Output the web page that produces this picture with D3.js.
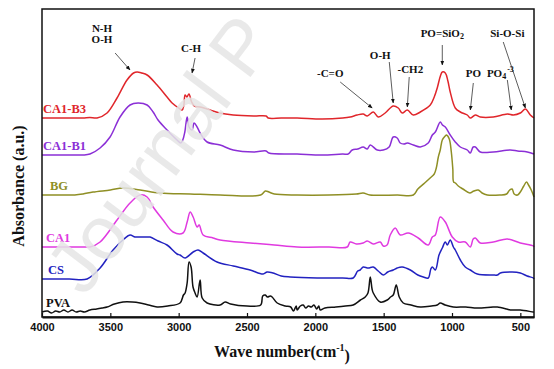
<!DOCTYPE html>
<html>
<head>
<meta charset="utf-8">
<script src="https://cdn.jsdelivr.net/npm/d3@7"></script>
<style>
  html, body { margin: 0; padding: 0; background: #fff; }
  svg { display: block; }
</style>
</head>
<body>
<svg id="chart" width="554" height="369"></svg>
<script>
// ---------------- DATA (wavenumber cm-1, absorbance a.u. incl. stacking offset) ----------------
const seriesNames = ["CA1-B3", "CA1-B1", "BG", "CA1", "CS", "PVA"];
const xTicks = [4000, 3500, 3000, 2500, 2000, 1500, 1000, 500];

const CA1_B3 = [[4000,199],[3900,199],[3800,199],[3700,199],[3650,199.5],[3597,199],[3524,204],[3451,219],[3378,237],[3330,244],[3304,245],[3270,244],[3231,242],[3158,232],[3085,220],[3048,214],[3000,209],[2975,207],[2962,212],[2953,222],[2940,220],[2925,223],[2905,215],[2885,211],[2843,210],[2792,208],[2700,204],[2601,202],[2450,201],[2360,201],[2345,199],[2250,199],[2133,199],[1950,198],[1800,199],[1745,200],[1694,202],[1650,203],[1620,201],[1576,205],[1540,200],[1489,204],[1430,211],[1393,209],[1364,204],[1327,207],[1283,202],[1232,205],[1159,212],[1130,220],[1108,229],[1085,241],[1071,245],[1049,244],[1030,236],[1013,225],[976,209],[939,205],[888,202],[866,199],[829,202],[793,200],[698,200],[595,203],[551,202],[500,204],[463,208],[427,202],[400,199]];

const CA1_B1 = [[4000,162],[3900,162],[3800,162],[3700,162],[3649,163],[3575,169],[3502,180],[3429,200],[3356,212],[3297,214],[3231,212],[3187,205],[3151,197],[3085,187],[3012,177],[2985,174],[2970,177],[2955,185],[2938,200],[2924,190],[2902,187],[2887,194],[2865,190],[2843,184],[2792,175],[2697,172],[2601,167],[2450,165],[2360,166],[2340,164],[2133,163],[1950,162],[1800,163],[1760,163],[1730,167],[1690,168],[1650,170],[1620,168],[1598,172],[1547,167],[1503,167],[1460,170],[1430,180],[1401,179],[1379,174],[1350,173],[1327,174],[1283,172],[1232,170],[1174,174],[1144,182],[1122,185],[1086,195],[1070,192],[1049,190],[1013,182],[976,175],[939,170],[888,167],[866,164],[845,170],[829,170],[793,165],[698,165],[573,167],[520,166],[449,165],[400,163]];

const BG = [[4000,122],[3900,122],[3760,122],[3700,123],[3627,125],[3500,127],[3407,129],[3282,127],[3136,124],[2916,123],[2697,122],[2400,122],[2365,126],[2340,125],[2300,123],[2133,122],[1900,122],[1700,123],[1650,124],[1600,122],[1400,122],[1283,122],[1250,128],[1200,134],[1160,139],[1130,143],[1115,149],[1100,160],[1086,167],[1071,177],[1050,181],[1040,182],[1020,178],[1005,165],[994,148],[988,135],[975,134],[954,131],[920,128],[870,124],[840,126],[808,127],[780,124],[742,122],[650,122],[600,123],[578,127],[560,128],[545,123],[520,122],[500,125],[475,131],[455,135],[440,132],[420,127],[400,120]];

const CA1 = [[4000,70],[3800,70],[3670,70],[3649,70],[3575,75],[3451,97],[3356,114],[3282,122],[3231,120],[3187,110],[3114,97],[3041,85],[2968,84],[2938,95],[2916,105],[2894,100],[2865,90],[2850,92],[2821,82],[2748,79],[2697,77],[2477,74],[2300,72],[2133,70],[1900,70],[1767,70],[1745,75],[1700,73],[1650,74],[1620,76],[1576,73],[1525,75],[1503,71],[1475,72],[1452,82],[1415,89],[1379,82],[1320,84],[1247,79],[1174,72],[1144,80],[1122,82],[1086,100],[1049,95],[998,80],[954,75],[903,75],[866,70],[845,78],[829,79],[793,74],[698,75],[595,78],[500,74],[405,71],[400,70]];

const CS = [[4000,38],[3800,38],[3670,38],[3575,49],[3480,67],[3400,78],[3356,82],[3320,80],[3297,80],[3231,80],[3209,80],[3150,76],[3085,72],[3012,63],[2990,62],[2953,59],[2894,65],[2858,67],[2821,64],[2719,55],[2600,51],[2477,47],[2382,43],[2353,45],[2309,44],[2250,41],[2184,40],[1986,39],[1800,39],[1723,39],[1690,46],[1672,47],[1650,50],[1613,49],[1576,50],[1540,46],[1503,42],[1470,45],[1430,47],[1401,49],[1364,50],[1305,47],[1250,42],[1210,40],[1174,39],[1155,48],[1144,50],[1122,47],[1095,62],[1071,69],[1049,75],[1034,72],[1013,77],[990,70],[976,67],[939,57],[903,50],[866,47],[815,43],[700,42],[668,42],[646,44],[560,45],[500,44],[450,41],[405,39],[400,38]];

const PVA = [[4000,5],[3960,6],[3930,4],[3900,6],[3870,5],[3840,7],[3810,5],[3780,7],[3750,5],[3720,6],[3690,5],[3649,7],[3600,8],[3560,9],[3524,10],[3470,13],[3407,15],[3340,15],[3282,14],[3220,12],[3158,10],[3080,11],[2990,14],[2965,22],[2953,24],[2938,34],[2924,55],[2909,50],[2895,30],[2880,24],[2865,20],[2843,37],[2828,19],[2792,14],[2697,12],[2660,15],[2620,13],[2500,11],[2400,12],[2385,21],[2367,22],[2350,20],[2330,21],[2316,20],[2279,14],[2220,11],[2180,10],[2160,6],[2140,11],[2133,7],[2110,11],[2089,12],[2070,9],[2050,11],[2030,10],[2010,12],[1990,8],[1975,11],[1964,7],[1930,9],[1850,10],[1780,11],[1723,12],[1670,17],[1635,20],[1615,24],[1598,40],[1585,28],[1576,24],[1525,15],[1474,17],[1450,20],[1430,22],[1408,32],[1386,20],[1357,14],[1300,12],[1232,10],[1150,11],[1108,12],[1086,14],[1050,12],[991,10],[900,10],[815,9],[700,10],[668,10],[600,8],[573,7],[500,7],[405,5],[400,5]];

const seriesValues = [CA1_B3, CA1_B1, BG, CA1, CS, PVA];

// annotations: label lines, text anchor (wavenumber, absorbance), arrow from -> to
const annLabels = [["N-H","O-H"],["C-H"],["-C=O"],["O-H"],["-CH2"],["PO=SiO2"],["PO"],["PO4-3"],["Si-O-Si"]];
const annTextAt = [[3561,284],[2909,269],[1891,244],[1525,262],[1305,248],[1071,284],[844,244],[646,244],[595,284]];
const annArrowFrom = [[3465,264],[2880,259],[1818,235],[1459,255],[1313,240],[1071,272],[844,234],[595,237],[625,275]];
const annArrowTo = [[3356,247],[2902,244],[1584,209],[1430,214],[1327,210],[1071,252],[866,207],[566,207],[463,209]];

// ---------------- LAYOUT / STYLE ----------------
const colors = ["#e0262b", "#8b2fd6", "#8f8f25", "#e03ae0", "#2222c0", "#111111"];
const labelDx = [1, 1, 8, 4, 6, 4];
const svg = d3.select("#chart");
const L = 42, R = 534, T = 9, B = 317;

const x = d3.scaleLinear().domain([4000, 400]).range([L, R]);
const y = d3.scaleLinear().domain([0, 308]).range([B, T]);

const line = d3.line()
  .x(d => x(d[0])).y(d => y(d[1]))
  .curve(d3.curveCatmullRom.alpha(0.5));

// curves
seriesValues.forEach((s, i) => {
  svg.append("path")
    .attr("d", line(s))
    .attr("fill", "none")
    .attr("stroke", colors[i])
    .attr("stroke-width", 1.5)
    .attr("stroke-linejoin", "round");
});

// series labels
seriesNames.forEach((n, i) => {
  svg.append("text")
    .attr("x", x(4000) + labelDx[i])
    .attr("y", y(seriesValues[i][0][1]) - 9)
    .attr("dy", "0.35em")
    .attr("fill", colors[i])
    .style("font-family", "'Liberation Serif','Times New Roman',serif")
    .style("font-weight", "bold")
    .style("font-size", "12.5px")
    .text(n);
});

// arrow marker
const defs = svg.append("defs");
defs.append("marker")
  .attr("id", "ah").attr("viewBox", "0 0 10 10")
  .attr("refX", 9).attr("refY", 5)
  .attr("markerWidth", 6).attr("markerHeight", 6)
  .attr("orient", "auto")
  .append("path").attr("d", "M0,1 L10,5 L0,9 Z").attr("fill", "#111");

// annotations
annLabels.forEach((lines, i) => {
  const [fx, fy] = annArrowFrom[i], [tx, ty] = annArrowTo[i];
  svg.append("line")
    .attr("x1", x(fx)).attr("y1", y(fy))
    .attr("x2", x(tx)).attr("y2", y(ty))
    .attr("stroke", "#333").attr("stroke-width", 0.8)
    .attr("marker-end", "url(#ah)");
  const t = svg.append("text")
    .attr("x", x(annTextAt[i][0]))
    .attr("y", y(annTextAt[i][1]) - (lines.length > 1 ? 5 : 0))
    .attr("text-anchor", "middle")
    .style("font-family", "'Liberation Serif','Times New Roman',serif")
    .style("font-weight", "bold")
    .style("font-size", "11px")
    .attr("fill", "#111");
  lines.forEach((ln, k) => {
    const ts = t.append("tspan").attr("x", x(annTextAt[i][0])).attr("dy", k === 0 ? "0.35em" : "1.0em");
    if (ln === "PO=SiO2") {
      ts.text("PO=SiO");
      t.append("tspan").attr("dy", "0.3em").style("font-size", "8px").text("2");
    } else if (ln === "PO4-3") {
      ts.text("PO");
      t.append("tspan").attr("dy", "0.3em").style("font-size", "8px").text("4");
      t.append("tspan").attr("dy", "-0.9em").attr("dx", "1").style("font-size", "8px").text("-3");
    } else {
      ts.text(ln);
    }
  });
});

// watermark
svg.append("text")
  .attr("transform", "translate(84,298) rotate(-53)")
  .style("font-family", "'Liberation Sans',Arial,sans-serif")
  .style("font-size", "76px")
  .attr("fill", "#e6e6e6")
  .attr("opacity", 0.85)
  .text("Journal P");

// frame
svg.append("rect")
  .attr("x", L).attr("y", T).attr("width", R - L).attr("height", B - T)
  .attr("fill", "none").attr("stroke", "#111").attr("stroke-width", 1.5);

// x axis
const ax = svg.append("g")
  .attr("transform", `translate(0,${B})`)
  .call(d3.axisBottom(x).tickValues(xTicks).tickSizeInner(-4).tickSizeOuter(0).tickPadding(6).tickFormat(d3.format("d")));
ax.select(".domain").attr("stroke", "#111").attr("stroke-width", 2);
ax.selectAll(".tick line").attr("stroke", "#111").attr("stroke-width", 1.2);
ax.selectAll(".tick text")
  .style("font-family", "'Liberation Sans',Arial,sans-serif")
  .style("font-weight", "bold")
  .style("font-size", "11px")
  .attr("fill", "#111");

// axis titles
const xt = svg.append("text")
  .attr("x", 282).attr("y", 357)
  .attr("text-anchor", "middle")
  .style("font-family", "'Liberation Serif','Times New Roman',serif")
  .style("font-weight", "bold")
  .style("font-size", "16px")
  .attr("fill", "#111");
xt.append("tspan").text("Wave number(cm");
xt.append("tspan").attr("dy", "-0.6em").style("font-size", "10px").text("-1");
xt.append("tspan").attr("dy", "0.6em").text(")");

svg.append("text")
  .attr("transform", "translate(24,186) rotate(-90)")
  .attr("text-anchor", "middle")
  .style("font-family", "'Liberation Serif','Times New Roman',serif")
  .style("font-weight", "bold")
  .style("font-size", "16px")
  .attr("fill", "#111")
  .text("Absorbance (a.u.)");
</script>
</body>
</html>
